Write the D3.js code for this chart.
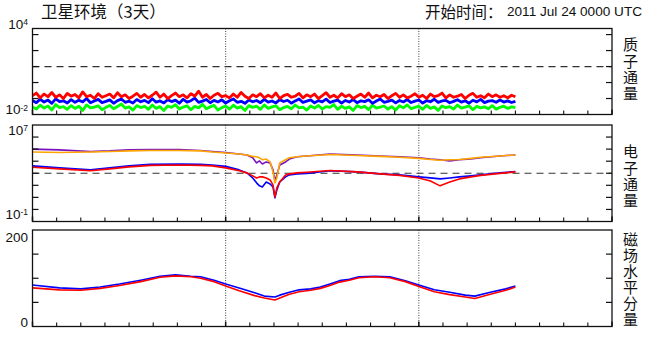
<!DOCTYPE html>
<html><head><meta charset="utf-8">
<script src="https://cdn.jsdelivr.net/npm/d3@7"></script>
<style>body{margin:0;background:#fff}svg{display:block}</style>
</head><body><svg id="c" width="647" height="351"></svg>
<script>
// ---------- text ----------
const titleText = "卫星环境（3天）";
const startLabel = "开始时间：";
const startTime = "2011 Jul 24 0000 UTC";
const panelNames = ["质子通量", "电子通量", "磁场水平分量"];

// ---------- time axis ----------
const dayCount = 3;
const ticksPerDay = 8; // every 3 hours

// ---------- panel 1: proton flux (sampled every 0.02 day) ----------
const protonStepDay = 0.02;
const protonRed = [0.15,0.22,0.11,0.19,0.13,0.24,0.12,0.17,0.10,0.21,
0.14,0.18,0.11,0.26,0.13,0.16,0.10,0.20,0.12,0.15,
0.19,0.11,0.23,0.13,0.17,0.10,0.14,0.21,0.12,0.18,
0.11,0.16,0.25,0.12,0.19,0.10,0.15,0.22,0.13,0.17,
0.11,0.20,0.14,0.29,0.12,0.18,0.10,0.16,0.21,0.13,
0.15,0.11,0.19,0.12,0.24,0.14,0.10,0.17,0.13,0.20,
0.11,0.16,0.12,0.22,0.10,0.15,0.18,0.12,0.14,0.21,
0.11,0.17,0.13,0.19,0.10,0.15,0.23,0.12,0.16,0.11,
0.20,0.13,0.17,0.10,0.14,0.19,0.12,0.22,0.11,0.16,
0.13,0.18,0.10,0.15,0.21,0.12,0.17,0.11,0.14,0.20,
0.12,0.16,0.10,0.19,0.13,0.15,0.22,0.11,0.17,0.12,
0.14,0.18,0.10,0.16,0.21,0.12,0.15,0.11,0.19,0.13,
0.17,0.12,0.15,0.11,0.16,0.13];
const protonBlue = [0.075,0.055,0.090,0.060,0.080,0.050,0.095,0.065,0.072,0.052,
0.085,0.058,0.078,0.062,0.100,0.054,0.070,0.088,0.056,0.066,
0.082,0.050,0.074,0.092,0.058,0.068,0.052,0.086,0.063,0.077,
0.055,0.096,0.060,0.071,0.053,0.084,0.064,0.079,0.051,0.090,
0.059,0.073,0.105,0.057,0.069,0.087,0.054,0.076,0.061,0.083,
0.052,0.072,0.093,0.058,0.067,0.050,0.081,0.063,0.075,0.055,
0.089,0.060,0.070,0.053,0.085,0.065,0.078,0.051,0.071,0.094,
0.057,0.068,0.082,0.054,0.074,0.062,0.091,0.056,0.069,0.080,
0.052,0.076,0.060,0.087,0.055,0.072,0.064,0.083,0.050,0.070,
0.092,0.058,0.066,0.079,0.053,0.075,0.061,0.086,0.056,0.068,
0.081,0.052,0.073,0.063,0.090,0.057,0.070,0.077,0.054,0.066,
0.084,0.059,0.072,0.051,0.078,0.062,0.088,0.055,0.069,0.074,
0.058,0.080,0.060,0.071,0.056,0.067];
const protonGreen = [0.030,0.022,0.038,0.025,0.034,0.019,0.042,0.027,0.031,0.021,
0.036,0.024,0.033,0.018,0.040,0.026,0.029,0.035,0.020,0.028,
0.037,0.023,0.032,0.045,0.025,0.030,0.019,0.036,0.027,0.033,
0.021,0.039,0.024,0.031,0.018,0.034,0.028,0.041,0.022,0.029,
0.035,0.020,0.032,0.026,0.043,0.023,0.030,0.037,0.019,0.027,
0.034,0.022,0.038,0.025,0.031,0.018,0.036,0.028,0.033,0.021,
0.040,0.024,0.030,0.035,0.020,0.027,0.032,0.023,0.039,0.026,
0.029,0.019,0.034,0.025,0.037,0.022,0.031,0.028,0.042,0.021,
0.033,0.024,0.030,0.018,0.036,0.027,0.032,0.020,0.038,0.025,
0.029,0.034,0.022,0.031,0.019,0.035,0.026,0.040,0.023,0.028,
0.033,0.021,0.037,0.024,0.030,0.018,0.034,0.027,0.031,0.022,
0.039,0.025,0.029,0.035,0.020,0.032,0.026,0.030,0.023,0.036,
0.021,0.028,0.033,0.024,0.030,0.027];
const protonThreshold = 10;

// ---------- panel 2: electron flux ----------
const electronDays = [0,0.14,0.30,0.40,0.50,0.61,0.76,0.87,0.93,1.0,1.07,1.11,1.14,1.16,1.175,1.19,1.21,1.23,1.245,1.255,1.265,1.28,1.31,1.33,1.37,1.42,1.54,1.68,1.80,1.90,2.0,2.06,2.11,2.16,2.21,2.27,2.32,2.42,2.5];
const electronPurple = [1.0e5,8.6e4,6.4e4,7.1e4,8.6e4,9.3e4,9.3e4,7.8e4,6.4e4,5.3e4,4.0e4,3.3e4,1.9e4,7.2e3,1.05e4,5.9e3,8.7e3,7.2e3,1.9e3,2.3e2,7.3e2,4.9e3,8.7e3,1.5e4,2.3e4,2.7e4,4.0e4,3.3e4,2.7e4,2.3e4,1.9e4,1.5e4,1.3e4,1.05e4,1.3e4,1.5e4,1.9e4,2.7e4,3.3e4];
const electronOrange = [5.8e4,5.3e4,5.8e4,6.4e4,7.1e4,7.8e4,7.8e4,7.1e4,5.8e4,4.8e4,4.0e4,3.3e4,2.5e4,2.3e4,1.9e4,1.3e4,1.5e4,8.7e3,1.3e3,1.6e2,4.1e2,7.2e3,1.3e4,1.9e4,2.3e4,2.7e4,3.6e4,3.0e4,2.5e4,2.1e4,1.7e4,1.4e4,1.2e4,1.3e4,1.4e4,1.7e4,2.1e4,2.7e4,3.3e4];
const electronBlue = [4.1e3,2.8e3,1.9e3,2.8e3,4.1e3,5.4e3,5.9e3,5.4e3,4.9e3,3.7e3,1.9e3,1.07e3,4.1e2,1.6e2,90,74,1.9e2,1.3e2,74,9.2,42,1.9e2,5.0e2,7.3e2,8.9e2,9.7e2,1.6e3,1.3e3,8.9e2,7.3e2,5.0e2,4.1e2,3.4e2,4.1e2,5.0e2,6.1e2,7.3e2,1.07e3,1.4e3];
const electronRed = [3.1e3,2.3e3,1.6e3,2.3e3,3.4e3,4.5e3,4.9e3,4.5e3,4.1e3,2.8e3,1.6e3,1.07e3,6.1e2,4.1e2,5.0e2,5.0e2,4.1e2,2.8e2,1.1e2,11,62,1.9e2,7.3e2,8.9e2,1.07e3,1.2e3,1.7e3,1.3e3,8.9e2,6.7e2,4.1e2,2.3e2,90,1.9e2,3.4e2,5.0e2,6.7e2,9.7e2,1.3e3];
const electronThreshold = 1000;

// ---------- panel 3: magnetic field horizontal component ----------
const magDays = [0,0.14,0.25,0.35,0.45,0.56,0.66,0.74,0.82,0.87,0.94,1.0,1.07,1.15,1.20,1.255,1.28,1.33,1.38,1.44,1.49,1.54,1.59,1.64,1.69,1.77,1.85,1.93,2.0,2.08,2.16,2.24,2.29,2.37,2.45,2.5];
const magBlue = [86,80,78,82,88,96,104,107,104,103,96,88,80,70,63,61,65,71,76,78,82,88,95,98,103,104,103,95,86,76,71,65,63,71,78,84];
const magRed  = [80,76,75,79,85,93,102,105,103,100,93,84,74,64,59,55,59,67,72,75,79,85,92,96,101,103,101,93,83,72,66,61,58,67,75,82];

// ---------- drawing ----------
const svg = d3.select("#c");
svg.append("rect").attr("width",647).attr("height",351).attr("fill","#fff");
const X0 = 32.5, X1 = 612;
const x = d3.scaleLinear().domain([0, dayCount]).range([X0, X1]);
const cjk = "'Noto Sans CJK SC', sans-serif";
const cjkTight = "'Liberation Sans', 'Noto Sans CJK SC', sans-serif";
const latin = "'Liberation Sans', Arial, sans-serif";

const panels = [
  {top:28.5, bottom:114.5, type:"log", domain:[0.01, 2400], ticks:[0.1,1,10,100,1000],
   labels:[["10","-2"],["10","4"]], labOff:[-5,-4.5], thr:protonThreshold, nameY:45,
   series:[
     {days:protonGreen.map((v,i)=>i*protonStepDay), vals:protonGreen, color:"#00ff00", w:2.8},
     {days:protonBlue.map((v,i)=>i*protonStepDay), vals:protonBlue, color:"#0000ff", w:2.8},
     {days:protonRed.map((v,i)=>i*protonStepDay), vals:protonRed, color:"#ff0000", w:2.8}]},
  {top:125, bottom:221.5, type:"log", domain:[0.1, 1e7], ticks:[1,10,100,1000,1e4,1e5,1e6],
   labels:[["10","-1"],["10","7"]], labOff:[-7.5,5], thr:electronThreshold, nameY:152,
   series:[
     {days:electronDays, vals:electronPurple, color:"#7a10c0", w:1.6},
     {days:electronDays, vals:electronOrange, color:"#ffa500", w:1.6},
     {days:electronDays, vals:electronBlue, color:"#0000ff", w:1.6},
     {days:electronDays, vals:electronRed, color:"#ff0000", w:1.6}]},
  {top:230, bottom:326.5, type:"lin", domain:[0, 200], ticks:[50,100,150],
   labels:[["0",null],["200",null]], labOff:[-4.5,7], thr:null, nameY:239.5,
   series:[
     {days:magDays, vals:magBlue, color:"#0000ff", w:1.6},
     {days:magDays, vals:magRed, color:"#ff0000", w:1.6}]}
];

panels.forEach((p, pi) => {
  const y = (p.type === "log" ? d3.scaleLog() : d3.scaleLinear()).domain(p.domain).range([p.bottom, p.top]);
  const g = svg.append("g");
  // day separators
  [1, 2].forEach(d => g.append("line").attr("x1", x(d)).attr("x2", x(d))
    .attr("y1", p.top).attr("y2", p.bottom)
    .attr("stroke", "#444").attr("stroke-width", 1).attr("stroke-dasharray", "1,1.5"));
  // threshold
  if (p.thr !== null) g.append("line").attr("x1", X0).attr("x2", X1)
    .attr("y1", y(p.thr)).attr("y2", y(p.thr))
    .attr("stroke", "#333").attr("stroke-width", 1.2).attr("stroke-dasharray", "7,5");
  // series
  p.series.forEach(s => {
    const line = d3.line().x((d, i) => x(s.days[i])).y(d => y(d));
    g.append("path").datum(s.vals).attr("d", line).attr("fill", "none")
      .attr("stroke", s.color).attr("stroke-width", s.w).attr("stroke-linejoin", "round");
  });
  // frame
  g.append("rect").attr("x", X0).attr("y", p.top).attr("width", X1 - X0).attr("height", p.bottom - p.top)
    .attr("fill", "none").attr("stroke", "#111").attr("stroke-width", 1.3);
  // y ticks inward, both sides
  p.ticks.forEach(t => {
    g.append("line").attr("x1", X0).attr("x2", X0 + 6).attr("y1", y(t)).attr("y2", y(t)).attr("stroke", "#111").attr("stroke-width", 1.2);
    g.append("line").attr("x1", X1).attr("x2", X1 - 6).attr("y1", y(t)).attr("y2", y(t)).attr("stroke", "#111").attr("stroke-width", 1.2);
  });
  // x ticks inward at bottom
  d3.range(0, dayCount * ticksPerDay + 1).forEach(i => {
    const xv = x(i / ticksPerDay);
    g.append("line").attr("x1", xv).attr("x2", xv).attr("y1", p.bottom).attr("y2", p.bottom - (i % ticksPerDay === 0 ? 5 : 4))
      .attr("stroke", "#111").attr("stroke-width", i % ticksPerDay === 0 ? 1.5 : 1.1);
  });
  // y end labels
  [[p.bottom, p.labels[0], p.labOff[0]], [p.top, p.labels[1], p.labOff[1]]].forEach(([yy, lab, off]) => {
    const t = g.append("text").attr("x", 28).attr("y", yy + off).attr("dy", "0.36em")
      .attr("text-anchor", "end").attr("font-family", latin).attr("font-size", 13.5).attr("fill", "#111");
    t.append("tspan").text(lab[0]);
    if (lab[1]) t.append("tspan").attr("dy", "-0.45em").attr("font-size", 8.5).text(lab[1]);
  });
  // right name, one character per row
  Array.from(panelNames[pi]).forEach((ch, k) => {
    g.append("text").attr("x", 630.5).attr("y", p.nameY + k * 16.1).attr("dy", "0.36em")
      .attr("text-anchor", "middle").attr("font-family", cjkTight).attr("font-size", 15).attr("fill", "#111").text(ch);
  });
});

// titles
svg.append("text").attr("x", 41).attr("y", 18).attr("font-family", cjk).attr("font-size", 16.5).attr("fill", "#111").text(titleText);
svg.append("text").attr("x", 425).attr("y", 18).attr("font-family", cjk).attr("font-size", 15.5).attr("fill", "#111").text(startLabel);
svg.append("text").attr("x", 642).attr("y", 16).attr("text-anchor", "end").attr("font-family", latin).attr("font-size", 13.6).attr("fill", "#111").text(startTime);
</script></body></html>
